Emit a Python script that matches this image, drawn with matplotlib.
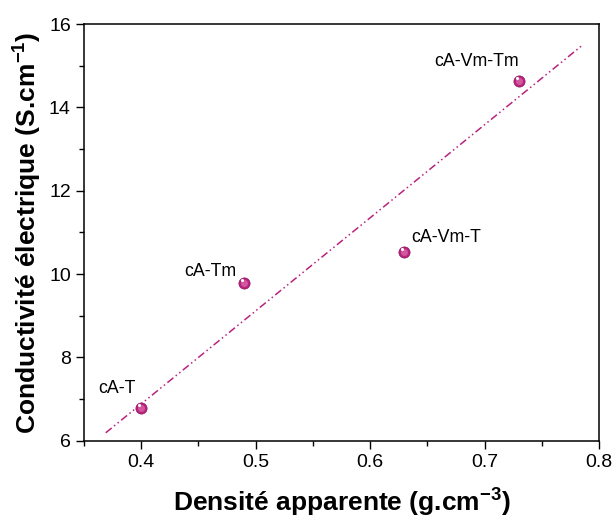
import matplotlib
matplotlib.use("Agg")
import matplotlib.pyplot as plt
from matplotlib.ticker import MultipleLocator

plt.rcParams["font.family"] = ["Liberation Sans", "DejaVu Sans"]
plt.rcParams["mathtext.fontset"] = "custom"
plt.rcParams["mathtext.bf"] = "Liberation Sans:bold"
plt.rcParams["mathtext.rm"] = "Liberation Sans"

# données
densite = [0.40, 0.49, 0.63, 0.73]
conductivite = [6.79, 9.78, 10.52, 14.64]
noms = ["cA-T", "cA-Tm", "cA-Vm-T", "cA-Vm-Tm"]

# droite d'ajustement
fit_x = [0.369, 0.785]
fit_y = [6.19, 15.48]

couleur = "#B8237E"

fig = plt.figure(figsize=(6.14, 5.18), dpi=100)
ax = fig.add_axes([84 / 614, 77.3 / 518, 515 / 614, 416.7 / 518])

ax.plot(fit_x, fit_y, color=couleur, lw=1.1, linestyle=(0, (5, 2, 1, 2, 1, 2)))

# points en forme de sphère
ax.scatter(densite, conductivite, s=65, color=couleur, zorder=3, edgecolors="#8E1560", linewidths=0.5)
ax.scatter(densite, conductivite, s=25, color="#D2579F", zorder=4, linewidths=0)
ax.scatter([d - 0.002 for d in densite], [c + 0.07 for c in conductivite], s=5,
           color="white", zorder=5, linewidths=0)

# décalages en points (texte à gauche, centré verticalement)
decalages = [(-31, 14), (-43, 8.6), (5, 10.8), (-61, 13.7)]
for x, y, n, d in zip(densite, conductivite, noms, decalages):
    ax.annotate(n, (x, y), xytext=d, textcoords="offset points", fontsize=12.8, va="center")

ax.set_xlim(0.35, 0.8)
ax.set_ylim(6, 16)
ax.xaxis.set_major_locator(MultipleLocator(0.1))
ax.xaxis.set_minor_locator(MultipleLocator(0.05))
ax.yaxis.set_major_locator(MultipleLocator(2))
ax.yaxis.set_minor_locator(MultipleLocator(1))
ax.tick_params(which="major", direction="out", length=6, width=1, labelsize=14)
ax.tick_params(which="minor", direction="out", length=3.5, width=1)
ax.set_xticks([0.4, 0.5, 0.6, 0.7, 0.8])
ax.set_xticklabels(["0.4", "0.5", "0.6", "0.7", "0.8"])
for s in ax.spines.values():
    s.set_linewidth(1.1)

ax.set_xlabel("Densité apparente (g.cm$^{\\mathbf{-3}}$)", fontsize=19, fontweight="bold", labelpad=10)
ax.set_ylabel("Conductivité électrique (S.cm$^{\\mathbf{-1}}$)", fontsize=19, fontweight="bold", labelpad=4)

fig.savefig("out.png", dpi=100)
